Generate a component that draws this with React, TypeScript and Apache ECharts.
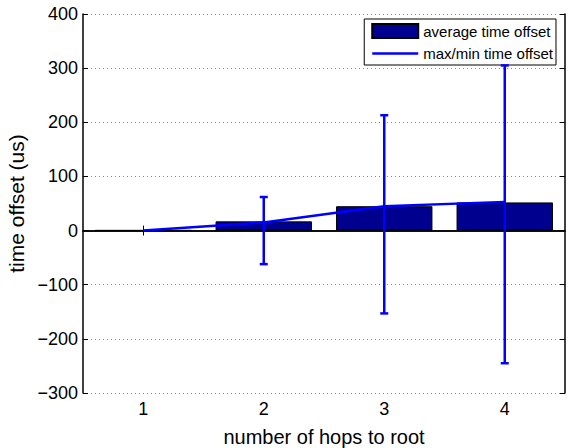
import React, { useEffect, useRef } from "react";
import * as echarts from "echarts";

const categories = ["1", "2", "3", "4"];
const averageOffset = [0.6, 17, 45, 52];
const lineOffset = [0, 15, 45, 53];
const minOffset = [0, -62, -153, -245];
const maxOffset = [0, 62, 213, 305];
const yTicks = { min: -300, max: 400, interval: 100 };

const FONT = "Liberation Sans, Arial, Helvetica, sans-serif";

export default function App() {
  const ref = useRef<HTMLDivElement>(null);
  useEffect(() => {
    if (!ref.current) return;
    const chart = echarts.init(ref.current, null, { renderer: "svg" });
    const errData = categories.map((_, i) => [i, minOffset[i], maxOffset[i]]).filter((d) => d[2] !== d[1]);
    chart.setOption({
      animation: false,
      textStyle: { fontFamily: FONT },
      grid: { left: 83, right: 8, top: 14, bottom: 55, containLabel: false, outerBoundsMode: "none" },
      legend: {
        right: 17,
        top: 19,
        orient: "vertical",
        backgroundColor: "#fff",
        borderColor: "#000",
        borderWidth: 1,
        borderRadius: 0,
        padding: [4, 3, 4, 7],
        itemWidth: 46,
        itemHeight: 14,
        itemGap: 7,
        textStyle: { fontSize: 15, color: "#000", fontFamily: FONT, padding: [0, 0, 0, 0] },
        data: [
          { name: "average time offset", icon: "rect" },
          { name: "max/min time offset", icon: "path://M0,0 L46,0 L46,2.5 L0,2.5 Z" },
        ],
      },
      xAxis: [
        {
          type: "category",
          data: categories,
          boundaryGap: true,
          axisLine: { show: true, lineStyle: { color: "#000", width: 1.5 } },
          axisTick: { show: true, inside: true, alignWithLabel: true, length: 5, lineStyle: { color: "#000" } },
          axisLabel: { fontSize: 18, color: "#000", margin: 7, fontFamily: FONT },
          splitLine: { show: false },
          name: "number of hops to root",
          nameLocation: "middle",
          nameGap: 34,
          nameTextStyle: { fontSize: 20, color: "#000", fontFamily: FONT },
        },
        {
          type: "category",
          data: categories,
          position: "top",
          boundaryGap: true,
          axisLine: { show: true, lineStyle: { color: "#000", width: 1.5 } },
          axisTick: { show: true, inside: true, alignWithLabel: true, length: 5, lineStyle: { color: "#000" } },
          axisLabel: { show: false },
          splitLine: { show: false },
        },
      ],
      yAxis: [
        {
          type: "value",
          min: yTicks.min,
          max: yTicks.max,
          interval: yTicks.interval,
          axisLine: { show: true, lineStyle: { color: "#000", width: 1.5 } },
          axisTick: { show: true, inside: true, length: 5, lineStyle: { color: "#000" } },
          axisLabel: {
            fontSize: 18,
            color: "#000",
            margin: 5,
            fontFamily: FONT,
            formatter: (v: number) => (v < 0 ? "\u2212" + Math.abs(v) : String(v)),
          },
          splitLine: { show: true, lineStyle: { color: "#888", type: [1, 3], width: 1 } },
          name: "time offset (us)",
          nameLocation: "middle",
          nameGap: 53,
          nameTextStyle: { fontSize: 21, color: "#000", fontFamily: FONT },
        },
        {
          type: "value",
          position: "right",
          min: yTicks.min,
          max: yTicks.max,
          interval: yTicks.interval,
          axisLine: { show: true, lineStyle: { color: "#000", width: 1.5 } },
          axisTick: { show: true, inside: true, length: 5, lineStyle: { color: "#000" } },
          axisLabel: { show: false },
          splitLine: { show: false },
        },
      ],
      series: [
        {
          name: "average time offset",
          type: "bar",
          data: averageOffset,
          barWidth: "80%",
          itemStyle: { color: "#00008F", borderColor: "#000", borderWidth: 1 },
          z: 2,
        },
        {
          name: "max/min time offset",
          type: "line",
          data: lineOffset,
          symbol: "none",
          showSymbol: false,
          lineStyle: { color: "#0000FF", width: 2.5 },
          itemStyle: { color: "#0000FF" },
          z: 3,
        },
        {
          name: "errorbars",
          type: "custom",
          data: errData,
          z: 4,
          renderItem: (params: any, api: any) => {
            const x = api.value(0);
            const lo = api.coord([x, api.value(1)]);
            const hi = api.coord([x, api.value(2)]);
            const cap = 4;
            const style = { stroke: "#0000FF", lineWidth: 2.5 };
            return {
              type: "group",
              children: [
                { type: "line", shape: { x1: lo[0], y1: lo[1], x2: hi[0], y2: hi[1] }, style },
                { type: "line", shape: { x1: hi[0] - cap, y1: hi[1], x2: hi[0] + cap, y2: hi[1] }, style },
                { type: "line", shape: { x1: lo[0] - cap, y1: lo[1], x2: lo[0] + cap, y2: lo[1] }, style },
              ],
            };
          },
        },
      ],
    });
    return () => chart.dispose();
  }, []);
  return <div ref={ref} style={{ width: 573, height: 448, position: "absolute", left: 0, top: 0, background: "#fff" }} />;
}
